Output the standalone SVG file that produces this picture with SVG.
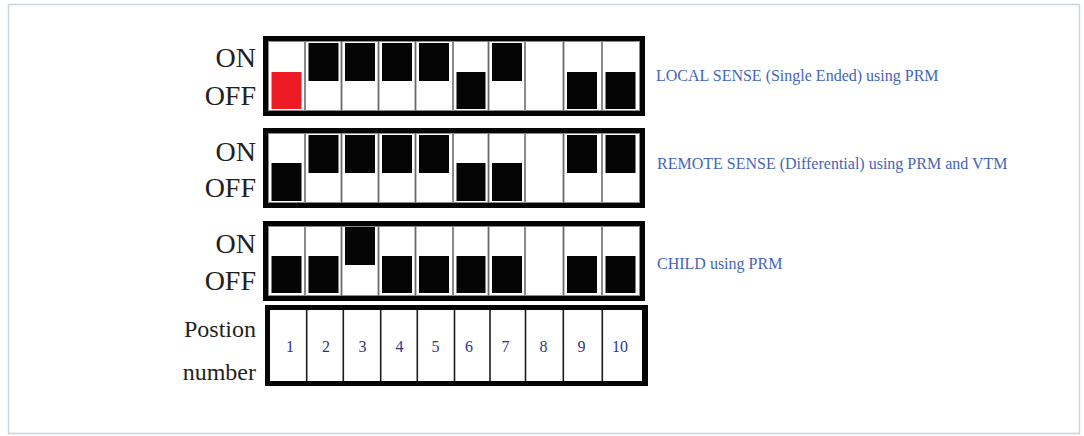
<svg xmlns="http://www.w3.org/2000/svg" width="1084" height="436" viewBox="0 0 1084 436">
<style>
.frame{fill:#fff;stroke:#c9d7dd;stroke-width:1.5}
.box{fill:#050505}
.cell{fill:#fff;stroke:#8a8a8a;stroke-width:1}
.blk{fill:#050505}
.red{fill:#ed1c24}
.lbl{font-family:'Liberation Serif','Times New Roman',serif;font-size:28px;fill:#231f20;text-anchor:end}
.lbl2{font-family:'Liberation Serif','Times New Roman',serif;font-size:24px;fill:#231f20;text-anchor:end}
.num{font-family:'Liberation Serif','Times New Roman',serif;font-size:16px;fill:#2e3586;text-anchor:middle}
.desc{font-family:'Liberation Serif','Times New Roman',serif;font-size:16px;fill:#4565b8}
.div{stroke:#1a1a1a;stroke-width:1.6}
</style>
<defs>
<g id="cells">
<rect class="cell" x="268.5" y="0" width="36" height="69"/>
<rect class="cell" x="305.5" y="0" width="35.5" height="69"/>
<rect class="cell" x="342" y="0" width="36" height="69"/>
<rect class="cell" x="379" y="0" width="36" height="69"/>
<rect class="cell" x="416" y="0" width="36.5" height="69"/>
<rect class="cell" x="453.5" y="0" width="34.5" height="69"/>
<rect class="cell" x="489" y="0" width="35.5" height="69"/>
<rect class="cell" x="525.5" y="0" width="37.5" height="69"/>
<rect class="cell" x="564" y="0" width="37.5" height="69"/>
<rect class="cell" x="602.5" y="0" width="37" height="69"/>
</g>
</defs>
<rect class="frame" x="8.5" y="4.5" width="1071" height="429"/>

<g id="switch-local">
<rect class="box" x="263" y="36" width="382" height="80"/>
<use href="#cells" y="41.5"/>
<rect class="red" x="271.5" y="72" width="30" height="37"/>
<rect class="blk" x="308.5" y="43" width="30" height="38"/>
<rect class="blk" x="345" y="43" width="30" height="38"/>
<rect class="blk" x="382" y="43" width="30" height="38"/>
<rect class="blk" x="419" y="43" width="30" height="38"/>
<rect class="blk" x="456.5" y="72" width="29" height="37"/>
<rect class="blk" x="492" y="43" width="30" height="38"/>
<rect class="blk" x="567" y="72" width="30" height="37"/>
<rect class="blk" x="605.5" y="72" width="30" height="37"/>
<text class="lbl" x="256" y="67">ON</text>
<text class="lbl" x="256" y="105">OFF</text>
<text class="desc" x="656" y="81">LOCAL SENSE (Single Ended) using PRM</text>
</g>

<g id="switch-remote">
<rect class="box" x="263" y="128" width="382" height="80"/>
<use href="#cells" y="133.5"/>
<rect class="blk" x="271.5" y="163" width="30" height="38"/>
<rect class="blk" x="308.5" y="135" width="30" height="38"/>
<rect class="blk" x="345" y="135" width="30" height="38"/>
<rect class="blk" x="382" y="135" width="30" height="38"/>
<rect class="blk" x="419" y="135" width="30" height="38"/>
<rect class="blk" x="456.5" y="163" width="29" height="38"/>
<rect class="blk" x="492" y="163" width="30" height="38"/>
<rect class="blk" x="567" y="135" width="30" height="38"/>
<rect class="blk" x="605.5" y="135" width="30" height="38"/>
<text class="lbl" x="256" y="161">ON</text>
<text class="lbl" x="256" y="197">OFF</text>
<text class="desc" x="657" y="169">REMOTE SENSE (Differential) using PRM and VTM</text>
</g>

<g id="switch-child">
<rect class="box" x="263" y="221" width="382" height="80"/>
<use href="#cells" y="226.5"/>
<rect class="blk" x="271.5" y="256" width="30" height="37"/>
<rect class="blk" x="308.5" y="256" width="30" height="37"/>
<rect class="blk" x="345" y="227" width="30" height="38"/>
<rect class="blk" x="382" y="256" width="30" height="37"/>
<rect class="blk" x="419" y="256" width="30" height="37"/>
<rect class="blk" x="456.5" y="256" width="29" height="37"/>
<rect class="blk" x="492" y="256" width="30" height="37"/>
<rect class="blk" x="567" y="256" width="30" height="37"/>
<rect class="blk" x="605.5" y="256" width="30" height="37"/>
<text class="lbl" x="256" y="253">ON</text>
<text class="lbl" x="256" y="290">OFF</text>
<text class="desc" x="657" y="269">CHILD using PRM</text>
</g>

<g id="position-row">
<rect class="box" x="265" y="305" width="383" height="81"/>
<rect fill="#fff" x="270" y="310" width="372" height="71"/>
<line class="div" x1="306.7" y1="310" x2="306.7" y2="381"/>
<line class="div" x1="343.3" y1="310" x2="343.3" y2="381"/>
<line class="div" x1="380.7" y1="310" x2="380.7" y2="381"/>
<line class="div" x1="417.3" y1="310" x2="417.3" y2="381"/>
<line class="div" x1="454.5" y1="310" x2="454.5" y2="381"/>
<line class="div" x1="490" y1="310" x2="490" y2="381"/>
<line class="div" x1="525.5" y1="310" x2="525.5" y2="381"/>
<line class="div" x1="563.3" y1="310" x2="563.3" y2="381"/>
<line class="div" x1="602.3" y1="310" x2="602.3" y2="381"/>
<text class="num" x="290" y="352">1</text>
<text class="num" x="326" y="352">2</text>
<text class="num" x="362.5" y="352">3</text>
<text class="num" x="399.5" y="352">4</text>
<text class="num" x="435.5" y="352">5</text>
<text class="num" x="469" y="352">6</text>
<text class="num" x="505.5" y="352">7</text>
<text class="num" x="543.5" y="352">8</text>
<text class="num" x="581.5" y="352">9</text>
<text class="num" x="620" y="352">10</text>
<text class="lbl2" x="256" y="337">Postion</text>
<text class="lbl2" x="256" y="380">number</text>
</g>

<g id="connectors"/>
</svg>
